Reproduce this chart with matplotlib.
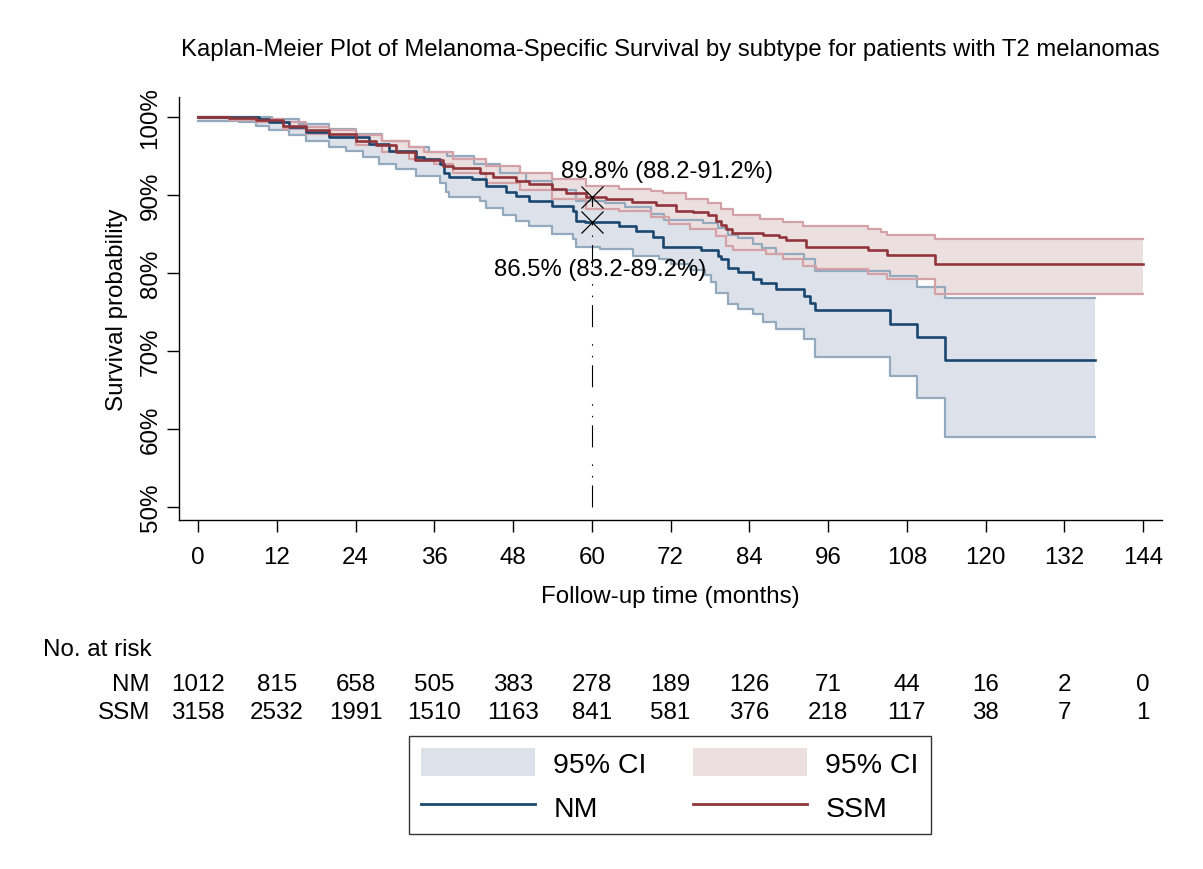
import numpy as np
import matplotlib
matplotlib.use("Agg")
import matplotlib.pyplot as plt
from matplotlib.patches import Patch
from matplotlib.lines import Line2D
from matplotlib.transforms import blended_transform_factory

plt.rcParams['font.family'] = ['Liberation Sans', 'DejaVu Sans']

title = "Kaplan-Meier Plot of Melanoma-Specific Survival by subtype for patients with T2 melanomas"

# ---- data (months, survival %) ----
nm_t = [0, 9.3, 10.8, 13.9, 16.4, 20.0, 26.1, 29.1, 33.2, 34.5, 36.8, 37.5, 38.3, 41.8, 43.9, 46.9, 48.5,
        50.5, 54.0, 57.1, 57.6, 59.0, 64.2, 66.8, 69.3, 70.9, 76.7, 79.2, 79.7, 80.7, 82.3, 84.6, 85.8,
        88.1, 92.4, 93.2, 94.0, 105.4, 109.5, 113.8]
nm_s = [100, 99.8, 99.4, 98.7, 98.1, 97.4, 96.6, 95.7, 94.9, 94.6, 94.0, 92.9, 92.3, 92.1, 91.2, 90.4, 89.9,
        89.3, 88.6, 88.0, 86.7, 86.5, 86.1, 85.4, 84.6, 83.3, 82.9, 82.2, 81.8, 80.6, 80.1, 79.2, 78.7,
        77.9, 77.1, 76.2, 75.2, 73.5, 71.8, 68.8]
nm_end = 136.7

nm_lo_t = [0, 6.3, 8.8, 10.8, 13.9, 16.4, 20.0, 22.5, 25.1, 27.6, 30.2, 33.2, 36.8, 37.8, 38.3, 42.9, 43.9,
           46.4, 48.5, 50.5, 54.0, 57.1, 57.6, 61.2, 66.3, 70.3, 72.0, 75.0, 77.3, 78.2, 79.0, 80.7, 82.3,
           84.6, 86.1, 88.1, 92.4, 94.0, 105.4, 109.5, 113.8]
nm_lo_s = [99.5, 99.4, 98.9, 98.3, 97.7, 97.0, 96.2, 95.7, 94.9, 94.0, 93.4, 92.5, 91.6, 90.4, 89.7, 89.3, 88.4,
           87.4, 86.7, 86.1, 85.0, 84.4, 83.3, 83.1, 82.2, 81.8, 81.2, 80.4, 79.7, 78.8, 77.5, 76.0, 75.4,
           74.7, 73.7, 72.8, 71.5, 69.2, 66.8, 64.0, 58.9]

nm_hi_t = [0, 11.3, 15.4, 20.0, 24.0, 28.1, 32.2, 35.2, 38.0, 42.0, 46.0, 50.0, 54.0, 57.6, 62.0, 65.0, 69.0,
           71.0, 77.0, 79.2, 80.7, 82.3, 84.6, 86.0, 88.1, 92.4, 94.0, 105.4, 109.5, 113.8]
nm_hi_s = [100, 99.8, 99.1, 98.5, 97.9, 97.0, 96.2, 95.5, 95.0, 94.0, 92.8, 91.8, 90.6, 89.2, 89.0, 88.5, 87.6,
           86.8, 86.4, 85.8, 84.9, 84.5, 83.7, 83.2, 82.5, 81.8, 80.3, 79.6, 78.2, 76.8]

ssm_t = [0, 4.7, 8.8, 12.9, 16.4, 20.0, 24.1, 27.1, 30.2, 33.0, 37.3, 38.8, 42.9, 44.9, 48.5, 50.5, 54.0,
         56.1, 59.1, 62.2, 66.2, 69.8, 72.9, 75.4, 77.7, 79.0, 79.7, 80.5, 81.3, 86.1, 88.6, 89.6, 92.7,
         102.1, 105.0, 112.3]
ssm_s = [100, 99.9, 99.6, 98.9, 98.3, 97.9, 97.0, 96.4, 95.5, 94.5, 93.8, 93.5, 92.9, 92.3, 91.8, 91.4, 90.8,
         90.3, 89.8, 89.5, 89.1, 88.7, 88.0, 87.8, 87.4, 86.7, 86.2, 85.6, 85.2, 84.9, 84.6, 84.2, 83.3,
         82.9, 82.3, 81.2]
ssm_end = 144

ssm_lo_t = [0, 4.7, 8.8, 12.9, 16.4, 20.0, 24.1, 28.1, 32.2, 36.0, 38.8, 43.9, 49.0, 54.0, 59.1, 64.2, 69.0,
            71.8, 74.9, 79.0, 80.5, 81.5, 86.6, 89.1, 92.2, 94.2, 102.1, 105.0, 112.3]
ssm_lo_s = [100, 99.7, 99.4, 98.5, 97.9, 97.4, 96.4, 95.5, 94.7, 94.0, 92.9, 91.6, 90.6, 89.5, 88.2, 88.0, 87.2,
            86.3, 85.6, 84.8, 83.5, 82.9, 82.4, 81.8, 80.9, 80.5, 79.9, 79.2, 77.3]

ssm_hi_t = [0, 9.0, 12.9, 16.4, 20.0, 24.1, 28.1, 32.2, 34.5, 38.8, 43.9, 49.0, 54.0, 59.1, 64.2, 69.0, 70.8,
            74.4, 77.7, 79.7, 81.5, 85.6, 89.1, 92.2, 102.1, 104.0, 105.0, 112.3]
ssm_hi_s = [100, 99.8, 99.4, 98.8, 98.4, 97.7, 97.0, 96.2, 95.6, 94.6, 93.8, 92.9, 92.1, 91.2, 90.8, 90.5, 90.3,
            89.5, 89.0, 88.2, 87.4, 87.0, 86.6, 86.1, 85.6, 85.3, 84.9, 84.4]

x_ticks = [0, 12, 24, 36, 48, 60, 72, 84, 96, 108, 120, 132, 144]
y_ticks = [50, 60, 70, 80, 90, 100]
y_labels = ["50%", "60%", "70%", "80%", "90%", "100%"]

risk_nm = [1012, 815, 658, 505, 383, 278, 189, 126, 71, 44, 16, 2, 0]
risk_ssm = [3158, 2532, 1991, 1510, 1163, 841, 581, 376, 218, 117, 38, 7, 1]

mark_t = 60
nm_at60, nm_at60_ci = 86.5, (83.2, 89.2)
ssm_at60, ssm_at60_ci = 89.8, (88.2, 91.2)

# colours
NM_C = '#1a476f'
SSM_C = '#90353b'
NM_FILL = '#dde2ea'
NM_EDGE = '#93a9bd'
SSM_FILL = '#ecdfe0'
SSM_EDGE = '#d4a2a6'

FS = 17.4


def extend(t, s, end):
    return np.append(t, end), np.append(s, s[-1])


def step_eval(t, s, grid):
    idx = np.searchsorted(np.asarray(t), grid, side='right') - 1
    return np.asarray(s)[np.clip(idx, 0, None)]


fig = plt.figure(figsize=(12.03, 8.70), dpi=100)
ax = fig.add_axes([0.1488, 0.4011, 0.8172, 0.4863])


def band(lo_t, lo_s, hi_t, hi_s, end, fill, edge):
    grid = np.unique(np.concatenate([lo_t, hi_t, [end]]))
    lo = step_eval(lo_t, lo_s, grid)
    hi = step_eval(hi_t, hi_s, grid)
    ax.fill_between(grid, lo, hi, step='post', color=fill, lw=0, zorder=1)
    for tt, ss in ((lo_t, lo_s), (hi_t, hi_s)):
        xe, ye = extend(tt, ss, end)
        ax.step(xe, ye, where='post', color=edge, lw=1.6, zorder=1.5)


band(nm_lo_t, nm_lo_s, nm_hi_t, nm_hi_s, nm_end, NM_FILL, NM_EDGE)
band(ssm_lo_t, ssm_lo_s, ssm_hi_t, ssm_hi_s, ssm_end, SSM_FILL, SSM_EDGE)

xe, ye = extend(nm_t, nm_s, nm_end)
ax.step(xe, ye, where='post', color=NM_C, lw=1.9, zorder=3)
xe, ye = extend(ssm_t, ssm_s, ssm_end)
ax.step(xe, ye, where='post', color=SSM_C, lw=1.9, zorder=3)

# vertical reference line and markers
ax.plot([mark_t, mark_t], [50, ssm_at60], color='black', lw=0.8,
        linestyle=(0, (19.8, 7.2, 1.4, 9, 1.4, 15.3)), zorder=4)
ax.plot([mark_t, mark_t], [ssm_at60, nm_at60], color='black', marker='x', ms=16, mew=0.9,
        linestyle='none', zorder=5)
ax.text(mark_t + 11.4, 93.1, f"{ssm_at60}% ({ssm_at60_ci[0]}-{ssm_at60_ci[1]}%)",
        ha='center', va='center', fontsize=17.2, zorder=6)
ax.text(mark_t + 1.3, 80.5, f"{nm_at60}% ({nm_at60_ci[0]}-{nm_at60_ci[1]}%)",
        ha='center', va='center', fontsize=17.2, zorder=6)

ax.set_xlim(-2.9, 146.9)
ax.set_ylim(48.3, 102.6)
ax.set_xticks(x_ticks)
ax.set_yticks(y_ticks)
ax.set_yticklabels(y_labels, rotation=90, va='center')
ax.tick_params(axis='both', direction='out', length=8.6, width=1, labelsize=FS, colors='black')
ax.tick_params(axis='x', pad=10)
ax.tick_params(axis='y', pad=4)
for side in ('top', 'right'):
    ax.spines[side].set_visible(False)
for side in ('left', 'bottom'):
    ax.spines[side].set_linewidth(1.0)
ax.set_xlabel("Follow-up time (months)", fontsize=FS, labelpad=12)
ax.set_ylabel("Survival probability", fontsize=FS, labelpad=8)

fig.text(670 / 1203, 1 - 50 / 870, title, ha='center', va='center', fontsize=17.2)

# number at risk table
tr = blended_transform_factory(ax.transData, fig.transFigure)
fig.text(43 / 1203, 1 - 650 / 870, "No. at risk", ha='left', va='center', fontsize=FS)
fig.text(150 / 1203, 1 - 685 / 870, "NM", ha='right', va='center', fontsize=FS)
fig.text(150 / 1203, 1 - 713 / 870, "SSM", ha='right', va='center', fontsize=FS)
for xt, a, b in zip(x_ticks, risk_nm, risk_ssm):
    ax.text(xt, 1 - 685 / 870, str(a), transform=tr, ha='center', va='center', fontsize=FS, clip_on=False)
    ax.text(xt, 1 - 713 / 870, str(b), transform=tr, ha='center', va='center', fontsize=FS, clip_on=False)

handles = [Patch(facecolor=NM_FILL, edgecolor='none'),
           Line2D([], [], color=NM_C, lw=2),
           Patch(facecolor=SSM_FILL, edgecolor='none'),
           Line2D([], [], color=SSM_C, lw=2)]
labels = ["95% CI", "NM", "95% CI", "SSM"]
leg = fig.legend(handles, labels, ncol=2, loc='center', bbox_to_anchor=(670 / 1203, 1 - 786 / 870),
                 fontsize=20.5, frameon=True, fancybox=False, edgecolor='black', handlelength=4.0,
                 handleheight=1.12, columnspacing=1.65, handletextpad=0.63, borderpad=0.42,
                 labelspacing=0.5, borderaxespad=0)
leg.get_frame().set_linewidth(1.0)

fig.savefig("out.png", dpi=100, facecolor='white')
